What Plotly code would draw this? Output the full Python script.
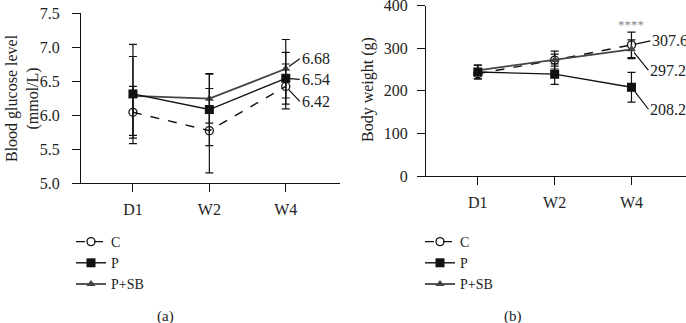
import plotly.graph_objects as go

categories = ["D1", "W2", "W4"]

# Panel (a): blood glucose (mmol/L)
glu_C = [6.04, 5.77, 6.42]
glu_C_err = [0.38, 0.62, 0.33]
glu_P = [6.31, 6.08, 6.54]
glu_P_err = [0.73, 0.53, 0.38]
glu_SB = [6.28, 6.24, 6.68]
glu_SB_err = [0.58, 0.36, 0.43]

# Panel (b): body weight (g)
bw_C = [240, 272, 307.6]
bw_C_err = [12, 21, 30]
bw_P = [244, 239, 208.2]
bw_P_err = [16, 24, 35]
bw_SB = [248, 272, 297.2]
bw_SB_err = [12, 14, 22]

glu_ticks = [5.0, 5.5, 6.0, 6.5, 7.0, 7.5]
bw_ticks = [0, 100, 200, 300, 400]

FONT = "Liberation Serif, Times New Roman, serif"
W, H = 686, 323


def px(x):
    return x / W


def py(y):
    return 1 - y / H


fig = go.Figure()

styles = {
    "C": dict(line=dict(color="#111", width=1.4, dash="dash"),
              marker=dict(symbol="circle-open", size=8, color="#111", line=dict(width=1.3, color="#111"))),
    "P": dict(line=dict(color="#111", width=1.4),
              marker=dict(symbol="square", size=9, color="#111")),
    "P+SB": dict(line=dict(color="#444", width=1.8),
                 marker=dict(symbol="triangle-up", size=8, color="#444")),
}


def add_series(xa, ya, legend, name, y, err, rank):
    st = styles[name]
    fig.add_trace(go.Scatter(
        x=categories, y=y, name=name, mode="lines+markers",
        line=st["line"], marker=st["marker"],
        error_y=dict(type="data", array=err, visible=True, color="#111", thickness=1.2, width=4),
        xaxis=xa, yaxis=ya, legend=legend, legendrank=rank,
    ))


add_series("x", "y", "legend", "C", glu_C, glu_C_err, 1)
add_series("x", "y", "legend", "P+SB", glu_SB, glu_SB_err, 3)
add_series("x", "y", "legend", "P", glu_P, glu_P_err, 2)

add_series("x2", "y2", "legend2", "C", bw_C, bw_C_err, 1)
add_series("x2", "y2", "legend2", "P+SB", bw_SB, bw_SB_err, 3)
add_series("x2", "y2", "legend2", "P", bw_P, bw_P_err, 2)

axis_common = dict(showgrid=False, zeroline=False, showline=True, linecolor="#111", linewidth=1.3,
                   ticks="outside", ticklen=8, tickcolor="#111", tickwidth=1.3,
                   ticklabeloverflow="allow",
                   tickfont=dict(family=FONT, size=16, color="#222"))

fig.update_layout(
    width=W, height=H, margin=dict(l=0, r=0, t=0, b=0, autoexpand=False),
    paper_bgcolor="white", plot_bgcolor="white",
    font=dict(family=FONT, size=16, color="#222"),
    xaxis=dict(domain=[px(81), px(340)], range=[-0.68, 2.71], type="category",
               ticklabelstandoff=4, anchor="y", **axis_common),
    yaxis=dict(domain=[py(183), py(13)], range=[5.0, 7.5], tickvals=glu_ticks,
               ticktext=[f"{v:.1f}" for v in glu_ticks], ticklabelstandoff=9, anchor="x", **axis_common),
    xaxis2=dict(domain=[px(426), 1.0], range=[-0.675, 2.71], type="category",
                ticklabelstandoff=4, anchor="y2", **axis_common),
    yaxis2=dict(domain=[py(176), py(5.5)], range=[0, 400], tickvals=bw_ticks,
                ticklabelstandoff=6, anchor="x2", **axis_common),
    legend=dict(x=px(71), y=py(226), xanchor="left", yanchor="top", itemwidth=30,
                font=dict(family=FONT, size=14, color="#222"), bgcolor="rgba(0,0,0,0)",
                tracegroupgap=0, itemclick=False),
    legend2=dict(x=px(420), y=py(226), xanchor="left", yanchor="top", itemwidth=30,
                 font=dict(family=FONT, size=14, color="#222"), bgcolor="rgba(0,0,0,0)",
                 tracegroupgap=0, itemclick=False),
    showlegend=True,
)

ann = []
# axis titles
ann.append(dict(text="Blood glucose level<br>(mmol/L)", textangle=-90, xref="paper", yref="paper",
                x=px(23), y=py(98), xanchor="center", yanchor="middle", showarrow=False,
                font=dict(family=FONT, size=16, color="#222")))
ann.append(dict(text="Body weight (g)", textangle=-90, xref="paper", yref="paper",
                x=px(368), y=py(90), xanchor="center", yanchor="middle", showarrow=False,
                font=dict(family=FONT, size=16, color="#222")))
# captions
ann.append(dict(text="(a)", xref="paper", yref="paper", x=px(165), y=py(316), xanchor="center",
                yanchor="middle", showarrow=False, font=dict(family=FONT, size=15, color="#222")))
ann.append(dict(text="(b)", xref="paper", yref="paper", x=px(513), y=py(316), xanchor="center",
                yanchor="middle", showarrow=False, font=dict(family=FONT, size=15, color="#222")))


# value labels at W4
def label(xref, yref, yval, ax, ay):
    ann.append(dict(x="W4", y=yval, xref=xref, yref=yref, text=f"{yval:g}", showarrow=True,
                    arrowhead=0, arrowwidth=1.2, arrowcolor="#111", ax=ax, ay=ay, xanchor="left",
                    yanchor="middle", standoff=4, font=dict(family=FONT, size=16, color="#222")))


label("x", "y", glu_SB[2], 14, -10)
label("x", "y", glu_P[2], 14, 1)
label("x", "y", glu_C[2], 14, 15)
label("x2", "y2", bw_C[2], 19, -4)
label("x2", "y2", bw_SB[2], 17, 21)
label("x2", "y2", bw_P[2], 17, 22)

ann.append(dict(x="W4", y=355, xref="x2", yref="y2", text="****", showarrow=False,
                font=dict(family=FONT, size=13, color="#888")))

fig.update_layout(annotations=ann)
fig.write_html("out.html", config={"displayModeBar": False},
               post_script="document.body.style.margin='0';")
